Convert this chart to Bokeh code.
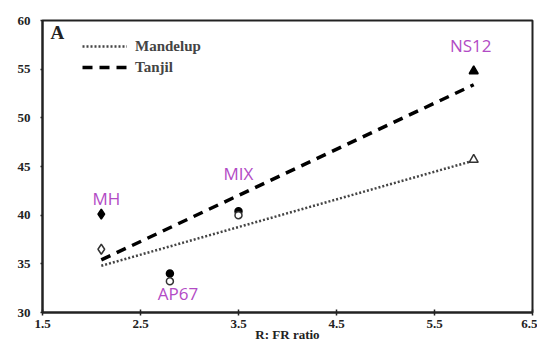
from bokeh.plotting import figure
from bokeh.models import ColumnDataSource, FixedTicker, Legend, LegendItem, Label, Range1d
from bokeh.core.properties import value
from bokeh.embed import file_html
from bokeh.resources import INLINE

# ---- data ----
cultivars = ["MH", "AP67", "MIX", "NS12"]
ratio = [2.1, 2.8, 3.5, 5.9]
tanjil = [40.1, 34.0, 40.4, 54.8]
mandelup = [36.5, 33.2, 40.0, 45.7]
fit_x = [2.1, 5.9]
tanjil_fit = [35.4, 53.4]
mandelup_fit = [34.8, 45.6]
x_ticks = [1.5, 2.5, 3.5, 4.5, 5.5, 6.5]
y_ticks = [30, 35, 40, 45, 50, 55, 60]

lab_dx = [5, 8, 0, -3]
lab_dy = [-16, 20, -38, -26]

p = figure(width=537, height=344, output_backend="svg", toolbar_location=None,
           x_range=Range1d(1.5, 6.5), y_range=Range1d(30, 60),
           min_border_left=42, min_border_right=5, min_border_top=20, min_border_bottom=31)
p.xgrid.visible = False
p.ygrid.visible = False
p.outline_line_color = "#222222"
p.outline_line_width = 2
p.background_fill_color = "white"
p.border_fill_color = "white"

for ax in (p.xaxis[0], p.yaxis[0]):
    ax.axis_line_width = 2
    ax.axis_line_color = "#222222"
    ax.major_label_text_font = "Liberation Serif"
    ax.major_label_text_font_style = "bold"
    ax.major_label_text_font_size = "13px"
    ax.major_label_text_color = "#222222"
    ax.minor_tick_line_color = None
    ax.major_tick_line_color = "#222222"
    ax.major_tick_line_width = 1.5

p.xaxis.ticker = FixedTicker(ticks=x_ticks)
p.yaxis.ticker = FixedTicker(ticks=y_ticks)
p.xaxis.major_label_overrides = {t: f"{t:g}" for t in x_ticks}
p.xaxis.major_tick_in = 3
p.xaxis.major_tick_out = 3
p.yaxis.major_tick_in = 0
p.yaxis.major_tick_out = 2
p.yaxis.major_label_standoff = 10
p.xaxis.major_label_standoff = 4
p.xaxis.axis_label = "R: FR ratio"
p.xaxis.axis_label_text_font = "Liberation Serif"
p.xaxis.axis_label_text_font_style = "bold"
p.xaxis.axis_label_text_font_size = "13px"
p.xaxis.axis_label_text_color = "#222222"
p.xaxis.axis_label_standoff = -4

l_m = p.line(fit_x, mandelup_fit, line_color="#444444", line_width=2.5, line_dash="2 2")
l_t = p.line(fit_x, tanjil_fit, line_color="black", line_width=3.5, line_dash="10 7")

src = ColumnDataSource(dict(x=ratio, t=tanjil, m=mandelup, name=cultivars,
                            dx=lab_dx, dy=lab_dy))
markers = ["diamond", "circle", "circle", "triangle"]
sizes = [10, 7, 7, 9]
for i in range(4):
    p.scatter([ratio[i]], [tanjil[i]], marker=markers[i], size=sizes[i],
              fill_color="black", line_color="black", line_width=1.5)
    p.scatter([ratio[i]], [mandelup[i]], marker=markers[i], size=sizes[i],
              fill_color="white", line_color="#333333", line_width=1.5)

p.text(x="x", y="t", text="name", source=src, x_offset="dx", y_offset="dy",
       text_align="center", text_baseline="middle", text_color="#b24bc5",
       text_font=value("Open Sans"), text_font_size="17px")

legend = Legend(items=[LegendItem(label="Mandelup", renderers=[l_m]),
                       LegendItem(label="Tanjil", renderers=[l_t])],
                location=(40, 235), orientation="vertical")
legend.background_fill_alpha = 0
legend.border_line_color = None
legend.padding = 0
legend.margin = 0
legend.spacing = 1
legend.glyph_width = 45
legend.glyph_height = 20
legend.label_height = 20
legend.label_standoff = 8
legend.label_text_font = "Liberation Serif"
legend.label_text_font_style = "bold"
legend.label_text_font_size = "15px"
p.add_layout(legend)

p.add_layout(Label(x=8, y=270, x_units="screen", y_units="screen", text="A",
                   text_font="Liberation Serif", text_font_style="bold",
                   text_font_size="19px", text_color="#222222"))

open("out.html", "w").write(file_html(p, INLINE))
